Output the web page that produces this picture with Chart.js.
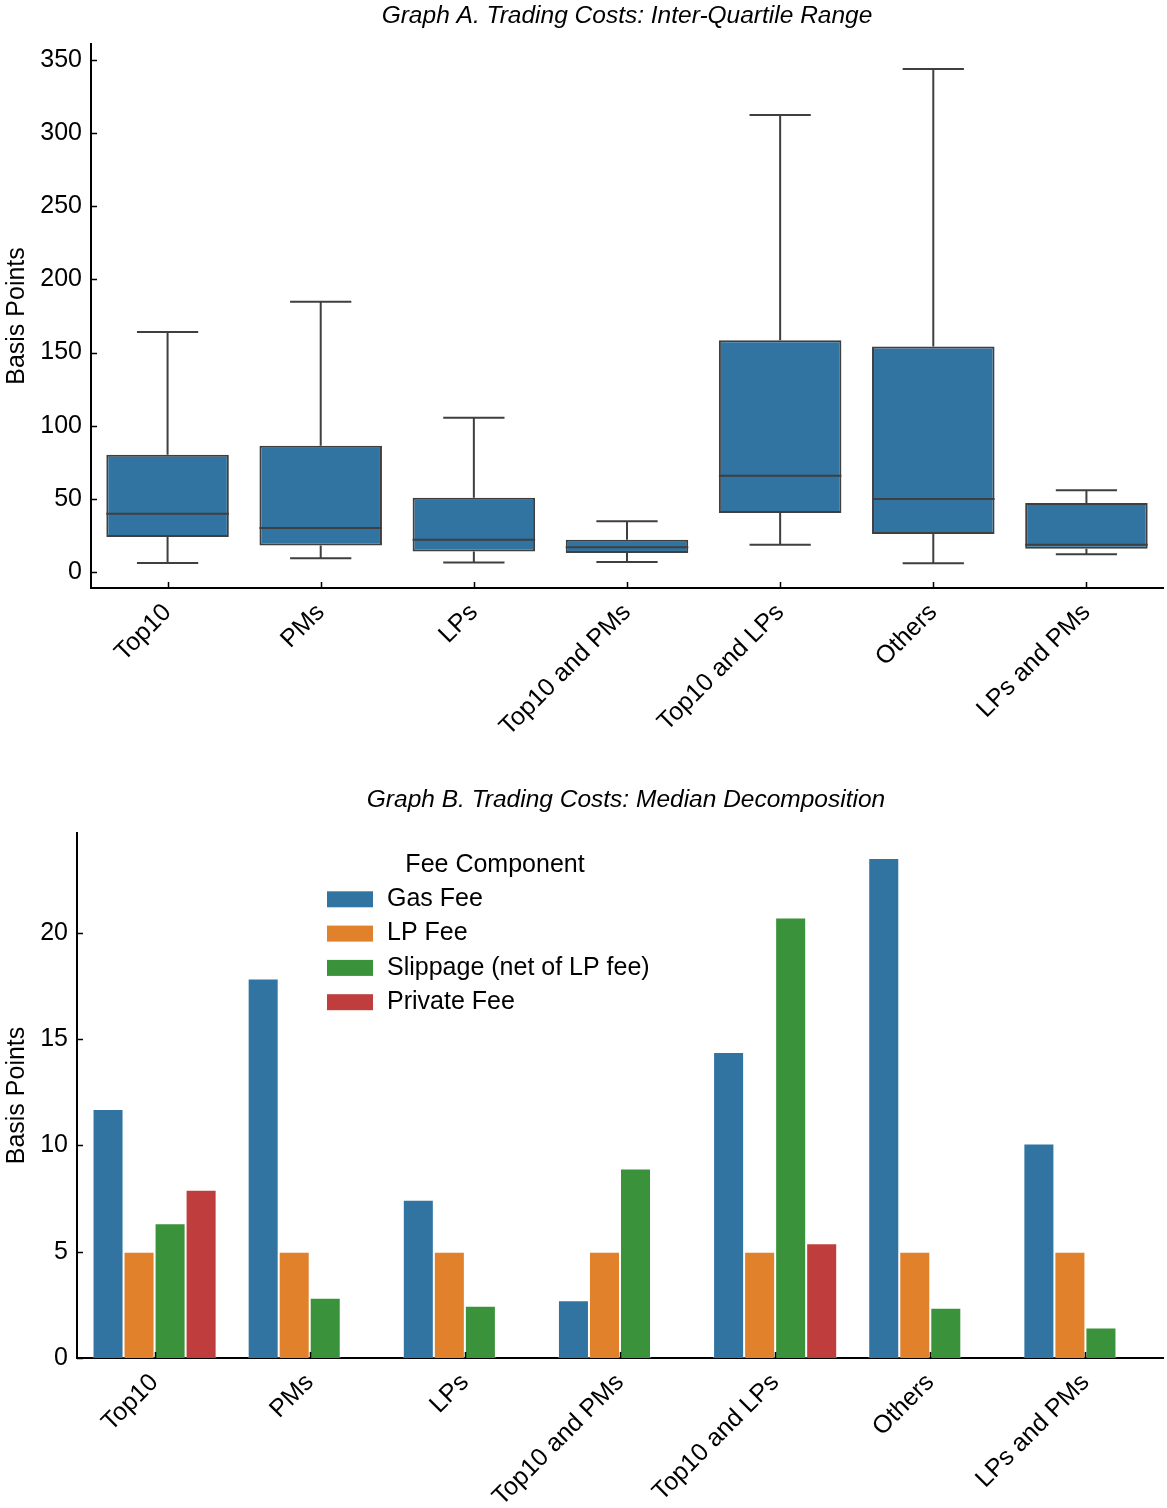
<!DOCTYPE html>
<html>
<head>
<meta charset="utf-8">
<script src="https://cdn.jsdelivr.net/npm/chart.js@4.4.1/dist/chart.umd.min.js"></script>
<style>
  html, body { margin: 0; padding: 0; background: #fff; }
  #page { position: relative; width: 1167px; height: 1508px; }
  #boxChart { position: absolute; left: 0; top: 0; }
  #barChart { position: absolute; left: 0; top: 760px; }
</style>
</head>
<body>
<div id="page">
  <canvas id="boxChart" width="1167" height="750"></canvas>
  <canvas id="barChart" width="1167" height="748"></canvas>
</div>
<script>
// ---------- Data ----------
const categories = ["Top10", "PMs", "LPs", "Top10 and PMs", "Top10 and LPs", "Others", "LPs and PMs"];

// Graph A: box plot stats (basis points)
const whiskerLow  = [6.1, 9.3, 6.4, 6.8, 18.6, 5.9, 12.0];
const q1          = [23.9, 18.1, 13.9, 12.9, 40.3, 25.9, 15.9];
const median      = [39.8, 30.0, 22.0, 16.9, 65.7, 49.8, 18.6];
const q3          = [80.1, 86.2, 50.8, 22.0, 158.5, 154.1, 47.1];
const whiskerHigh = [164.1, 184.7, 105.5, 34.7, 312.4, 343.9, 55.9];
const yTicksA = [0, 50, 100, 150, 200, 250, 300, 350];

// Graph B: median decomposition (basis points)
const feeLabels  = ["Gas Fee", "LP Fee", "Slippage (net of LP fee)", "Private Fee"];
const gasFee     = [11.72, 17.85, 7.45, 2.72, 14.40, 23.52, 10.09];
const lpFee      = [5.0, 5.0, 5.0, 5.0, 5.0, 5.0, 5.0];
const slippage   = [6.34, 2.83, 2.46, 8.92, 20.72, 2.37, 1.43];
const privateFee = [7.91, null, null, null, 5.40, null, null];
const yTicksB = [0, 5, 10, 15, 20];

const colors = ["#3274a1", "#e1812c", "#3a923a", "#c03d3e"];
const FONT = '"Liberation Sans", Arial, Helvetica, sans-serif';

Chart.defaults.font.family = FONT;
Chart.defaults.font.size = 25;
Chart.defaults.color = "#000";

// ---------- Plugins ----------
// matplotlib-style inward ticks
const innerTicks = {
  id: "innerTicks",
  afterDraw(chart) {
    const ctx = chart.ctx;
    const xs = chart.scales.x, ys = chart.scales.y;
    ctx.save();
    ctx.strokeStyle = "#000";
    ctx.lineWidth = 1.5;
    ctx.beginPath();
    xs.ticks.forEach((t, i) => {
      const px = Math.round(xs.getPixelForTick(i)) + 0.5;
      ctx.moveTo(px, xs.top);
      ctx.lineTo(px, xs.top - 6);
    });
    ys.ticks.forEach((t, i) => {
      const py = Math.round(ys.getPixelForTick(i)) + 0.5;
      ctx.moveTo(ys.right, py);
      ctx.lineTo(ys.right + 6, py);
    });
    ctx.stroke();
    ctx.restore();
  }
};

// italic title centred over the axes
const plotTitle = {
  id: "plotTitle",
  afterDraw(chart, args, opts) {
    const ctx = chart.ctx;
    const a = chart.chartArea;
    ctx.save();
    ctx.font = "italic 24.5px " + FONT;
    ctx.fillStyle = "#000";
    ctx.textAlign = "center";
    ctx.textBaseline = "middle";
    ctx.fillText(opts.text, (a.left + a.right) / 2 + (opts.dx || 0), opts.y);
    ctx.restore();
  }
};

// whiskers, caps and medians on top of the floating IQR bars
const boxExtras = {
  id: "boxExtras",
  afterDatasetsDraw(chart) {
    const ctx = chart.ctx;
    const ys = chart.scales.y;
    const meta = chart.getDatasetMeta(0);
    ctx.save();
    ctx.strokeStyle = "#3f3f3f";
    ctx.lineWidth = 2;
    meta.data.forEach((bar, i) => {
      const x = bar.x, w = bar.width;
      const yLo = ys.getPixelForValue(whiskerLow[i]);
      const yQ1 = ys.getPixelForValue(q1[i]);
      const yMed = ys.getPixelForValue(median[i]);
      const yQ3 = ys.getPixelForValue(q3[i]);
      const yHi = ys.getPixelForValue(whiskerHigh[i]);
      ctx.beginPath();
      ctx.moveTo(x, yQ1); ctx.lineTo(x, yLo);
      ctx.moveTo(x, yQ3); ctx.lineTo(x, yHi);
      ctx.moveTo(x - w / 4, yLo); ctx.lineTo(x + w / 4, yLo);
      ctx.moveTo(x - w / 4, yHi); ctx.lineTo(x + w / 4, yHi);
      ctx.moveTo(x - w / 2, yMed); ctx.lineTo(x + w / 2, yMed);
      ctx.stroke();
    });
    ctx.restore();
  }
};

// legend placed inside the axes like seaborn
const innerLegend = {
  id: "innerLegend",
  afterDraw(chart, args, opts) {
    const ctx = chart.ctx;
    const a = chart.chartArea;
    const x0 = a.left + opts.dx;
    ctx.save();
    ctx.font = "25px " + FONT;
    ctx.fillStyle = "#000";
    ctx.textBaseline = "middle";
    ctx.textAlign = "center";
    ctx.fillText(opts.title, x0 + 168, opts.y);
    ctx.textAlign = "left";
    chart.data.datasets.forEach((ds, i) => {
      const cy = opts.y + 34.3 * (i + 1);
      ctx.fillStyle = ds.backgroundColor;
      ctx.fillRect(x0, cy - 8, 46, 16);
      ctx.fillStyle = "#000";
      ctx.fillText(ds.label, x0 + 60, cy);
    });
    ctx.restore();
  }
};

function axisCommon() {
  return {
    grid: { display: false, drawTicks: false },
    border: { display: true, color: "#000", width: 2 }
  };
}

// ---------- Graph A ----------
new Chart(document.getElementById("boxChart"), {
  type: "bar",
  data: {
    labels: categories,
    datasets: [{
      label: "IQR",
      data: q1.map((v, i) => [v, q3[i]]),
      backgroundColor: colors[0],
      borderColor: "#3f3f3f",
      borderWidth: 2,
      borderSkipped: false,
      barPercentage: 0.8,
      categoryPercentage: 1.0
    }]
  },
  options: {
    responsive: false,
    animation: false,
    layout: { padding: { top: 44, right: 4, left: 0, bottom: 0 } },
    plugins: {
      legend: { display: false },
      tooltip: { enabled: false },
      plotTitle: { text: "Graph A. Trading Costs: Inter-Quartile Range", y: 16, dx: 0 }
    },
    scales: {
      x: {
        ...axisCommon(),
        ticks: { autoSkip: false, minRotation: 45, maxRotation: 45, padding: 10 },
        afterFit: (s) => { s.height = 162; }
      },
      y: {
        ...axisCommon(),
        min: -11,
        max: 361,
        ticks: { padding: 9 },
        afterBuildTicks: (s) => { s.ticks = yTicksA.map(v => ({ value: v })); },
        title: { display: true, text: "Basis Points", padding: { top: 2, bottom: 0 } },
        afterFit: (s) => { s.width = 91; }
      }
    }
  },
  plugins: [innerTicks, plotTitle, boxExtras]
});

// ---------- Graph B ----------
const feeSeries = [gasFee, lpFee, slippage, privateFee];

new Chart(document.getElementById("barChart"), {
  type: "bar",
  data: {
    labels: categories,
    datasets: feeSeries.map((vals, i) => ({
      label: feeLabels[i],
      data: vals,
      backgroundColor: colors[i],
      borderColor: "rgba(255,255,255,0.35)",
      borderWidth: 1,
      barPercentage: 1.0,
      categoryPercentage: 0.8
    }))
  },
  options: {
    responsive: false,
    animation: false,
    layout: { padding: { top: 73, right: 4, left: 0, bottom: 0 } },
    plugins: {
      legend: { display: false },
      tooltip: { enabled: false },
      plotTitle: { text: "Graph B. Trading Costs: Median Decomposition", y: 40, dx: 6 },
      innerLegend: { title: "Fee Component", dx: 250, y: 105 }
    },
    scales: {
      x: {
        ...axisCommon(),
        ticks: { autoSkip: false, minRotation: 45, maxRotation: 45, padding: 10 },
        afterFit: (s) => { s.height = 150; }
      },
      y: {
        ...axisCommon(),
        min: 0,
        max: 24.7,
        ticks: { padding: 9 },
        afterBuildTicks: (s) => { s.ticks = yTicksB.map(v => ({ value: v })); },
        title: { display: true, text: "Basis Points", padding: { top: 2, bottom: 0 } },
        afterFit: (s) => { s.width = 77; }
      }
    }
  },
  plugins: [innerTicks, plotTitle, innerLegend]
});
</script>
</body>
</html>
